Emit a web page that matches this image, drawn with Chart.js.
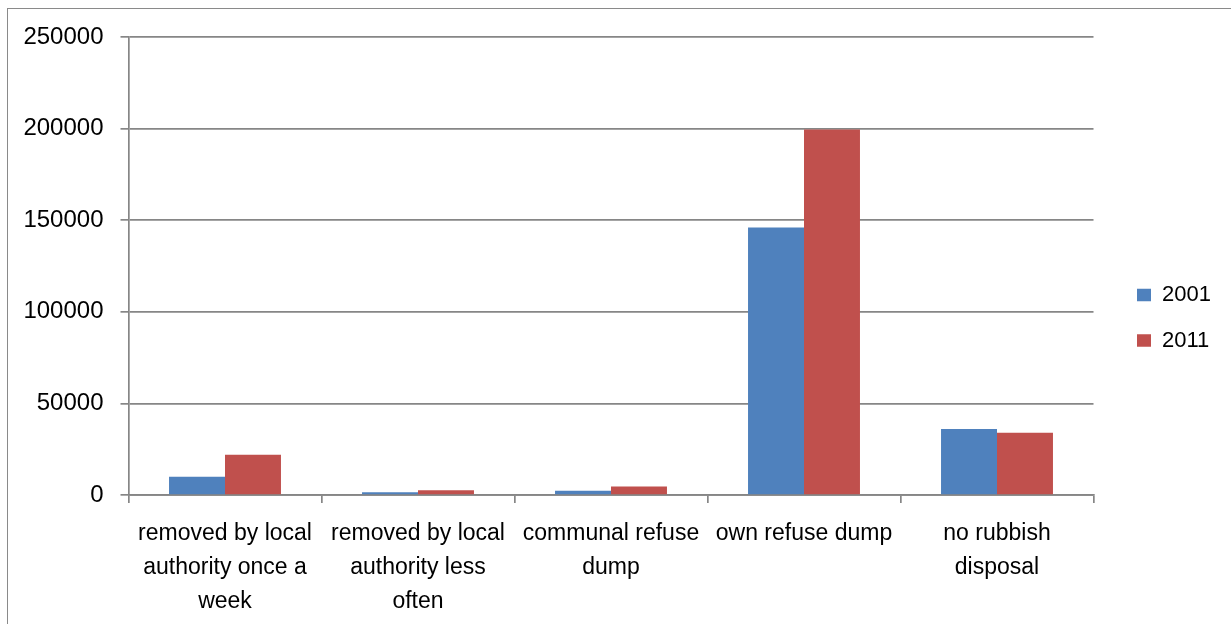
<!DOCTYPE html>
<html>
<head>
<meta charset="utf-8">
<title>Rubbish disposal, 2001 and 2011</title>
<script src="https://cdn.jsdelivr.net/npm/chart.js@4/dist/chart.umd.min.js"></script>
<style>
  html, body { margin: 0; padding: 0; background: #fff; overflow: hidden; }
  #wrap { position: relative; width: 1231px; height: 624px; }
  #frame { position: absolute; left: 7px; top: 8px; width: 1300px; height: 700px;
           border: 1px solid #8a8a8a; box-sizing: border-box; pointer-events: none; }
  canvas { position: absolute; left: 0; top: 0; }
</style>
</head>
<body>
<div id="wrap">
  <canvas id="chart" width="1231" height="624"></canvas>
  <div id="frame"></div>
</div>
<script>
// Categories (each wrapped onto the lines shown under the axis)
const categories = [
  ['removed by local', 'authority once a', 'week'],
  ['removed by local', 'authority less', 'often'],
  ['communal refuse', 'dump'],
  ['own refuse dump'],
  ['no rubbish', 'disposal']
];

// Households by method of rubbish disposal
const series2001 = [10000, 1500, 2300, 146000, 36000];
const series2011 = [22000, 2600, 4700, 199500, 34000];

const seriesNames = ['2001', '2011'];
const seriesColors = ['#4F81BD', '#C0504D'];

// Value axis
const yMin = 0;
const yMax = 250000;
const yStep = 50000;

const FONT = 'Liberation Sans';
const gridColor = '#868686';

// Legend sizing
const legendFontSize = 22;
const legendPad = 23.5;
const legendBoxW = 14;
const legendBoxH = 12.5;
const plotRight = 1093.5;

function textWidth(str, size) {
  const c = document.createElement('canvas').getContext('2d');
  c.font = size + 'px "' + FONT + '"';
  return c.measureText(str).width;
}
const legendTextW = Math.max(...seriesNames.map(s => textWidth(s, legendFontSize)));
const legendNaturalW = legendPad + legendBoxW + legendFontSize / 2 + legendTextW + 10;
const rightPad = Math.max(0, 1231 - plotRight - legendNaturalW);

// Place the legend block beside the plot, vertically near the middle
const legendPlace = {
  id: 'legendPlace',
  afterLayout(chart) {
    const lg = chart.legend;
    const w = lg.right - lg.left;
    lg.left = 1137 - legendPad;
    lg.right = lg.left + w;
    const h = lg.bottom - lg.top;
    lg.top = 284 - legendPad;
    lg.bottom = lg.top + h;
  }
};

new Chart(document.getElementById('chart'), {
  type: 'bar',
  data: {
    labels: categories,
    datasets: [
      { label: seriesNames[0], data: series2001, backgroundColor: seriesColors[0], borderWidth: 0 },
      { label: seriesNames[1], data: series2011, backgroundColor: seriesColors[1], borderWidth: 0 }
    ]
  },
  options: {
    responsive: false,
    devicePixelRatio: 1,
    animation: false,
    layout: { padding: { top: 37, left: 0, bottom: 0, right: rightPad } },
    datasets: { bar: { categoryPercentage: 0.58, barPercentage: 1.0 } },
    plugins: {
      title: { display: false },
      tooltip: { enabled: false },
      legend: {
        position: 'right',
        align: 'start',
        labels: {
          color: '#000',
          font: { family: FONT, size: legendFontSize },
          boxWidth: legendBoxW,
          boxHeight: legendBoxH,
          padding: legendPad
        }
      }
    },
    scales: {
      x: {
        offset: true,
        grid: {
          display: true,
          offset: true,
          drawOnChartArea: false,
          drawTicks: true,
          tickLength: 8,
          color: gridColor,
          lineWidth: 1.7
        },
        border: { display: true, color: gridColor, width: 1.7 },
        ticks: {
          color: '#000',
          font: { family: FONT, size: 23, lineHeight: 34 / 23 },
          padding: 14,
          maxRotation: 0,
          autoSkip: false
        },
        afterFit(scale) { scale.height = 129; }
      },
      y: {
        min: yMin,
        max: yMax,
        grid: {
          color: gridColor,
          lineWidth: 1.7,
          drawTicks: true,
          tickLength: 8
        },
        border: { display: true, color: gridColor, width: 1.7 },
        ticks: {
          stepSize: yStep,
          color: '#000',
          font: { family: FONT, size: 24 },
          padding: 17,
          callback: v => String(v)
        },
        afterFit(scale) { scale.width = 128.5; }
      }
    }
  },
  plugins: [legendPlace]
});
</script>
</body>
</html>
